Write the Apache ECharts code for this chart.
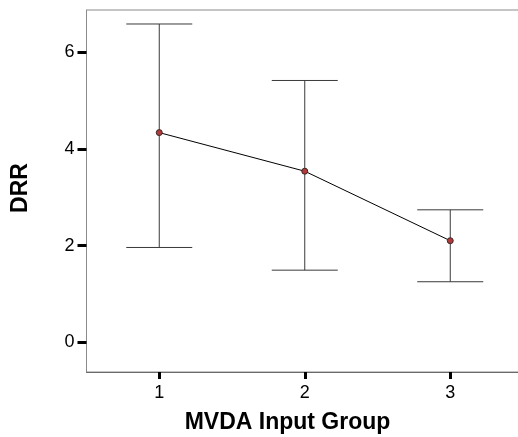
<!DOCTYPE html>
<html>
<head>
<meta charset="utf-8">
<script src="https://cdn.jsdelivr.net/npm/echarts@6/dist/echarts.min.js"></script>
<style>
html,body{margin:0;padding:0;background:#fff;}
#c{width:518px;height:437px;}
</style>
</head>
<body>
<div id="c"></div>
<script>
const groups = ['1', '2', '3'];
const means = [4.34, 3.54, 2.10];
const upper = [6.59, 5.42, 2.74];
const lower = [1.96, 1.49, 1.25];
const yTicks = [0, 2, 4, 6];
const xTitle = 'MVDA Input Group';
const yTitle = 'DRR';

const errData = groups.map((g, i) => [i, lower[i], upper[i]]);
const chart = echarts.init(document.getElementById('c'), null, {renderer: 'canvas'});
const FONT = '"Liberation Sans", Arial, sans-serif';
chart.setOption({
  animation: false,
  backgroundColor: '#fff',
  grid: {left: 86.5, top: 10, width: 436.5, height: 362, outerBoundsMode: 'none', containLabel: false, show: true, borderColor: '#8a8a8a', borderWidth: 1, backgroundColor: 'transparent'},
  xAxis: {
    type: 'category',
    data: groups,
    boundaryGap: true,
    axisLine: {show: true, onZero: false, lineStyle: {color: '#6a6a6a', width: 1}},
    axisTick: {show: true, alignWithLabel: true, length: 7, lineStyle: {color: '#000', width: 3}},
    axisLabel: {color: '#000', fontSize: 18, fontFamily: FONT, margin: 12},
    splitLine: {show: false}
  },
  yAxis: {
    type: 'value',
    min: -0.62,
    max: 6.88,
    axisLine: {show: true, lineStyle: {color: '#8a8a8a', width: 1}},
    axisTick: {show: true, length: 9, lineStyle: {color: '#000', width: 3}, customValues: yTicks},
    axisLabel: {color: '#000', fontSize: 18, fontFamily: FONT, margin: 12, customValues: yTicks},
    splitLine: {show: false}
  },
  graphic: [
    {type: 'text', x: 287.5, y: 423, style: {text: xTitle, font: 'bold 23px ' + FONT, fill: '#000', textAlign: 'center', textVerticalAlign: 'middle'}},
    {type: 'text', x: 21, y: 188, rotation: Math.PI / 2, style: {text: yTitle, font: 'bold 23px ' + FONT, fill: '#000', textAlign: 'center', textVerticalAlign: 'middle'}}
  ],
  series: [
    {
      type: 'custom',
      data: errData,
      encode: {x: 0, y: [1, 2]},
      renderItem: function (params, api) {
        const x = api.value(0);
        const lo = api.coord([x, api.value(1)]);
        const hi = api.coord([x, api.value(2)]);
        const hw = 33;
        const st = {stroke: '#3a3a3a', lineWidth: 1};
        return {
          type: 'group',
          children: [
            {type: 'line', shape: {x1: hi[0], y1: hi[1], x2: lo[0], y2: lo[1]}, style: st},
            {type: 'line', shape: {x1: hi[0] - hw, y1: hi[1], x2: hi[0] + hw, y2: hi[1]}, style: st},
            {type: 'line', shape: {x1: lo[0] - hw, y1: lo[1], x2: lo[0] + hw, y2: lo[1]}, style: st}
          ]
        };
      },
      z: 2
    },
    {
      type: 'line',
      data: means,
      symbol: 'circle',
      symbolSize: 6,
      lineStyle: {color: '#000', width: 1},
      itemStyle: {color: '#b33a3a', borderColor: '#3a2a2a', borderWidth: 1},
      z: 3
    }
  ]
});
</script>
</body>
</html>
